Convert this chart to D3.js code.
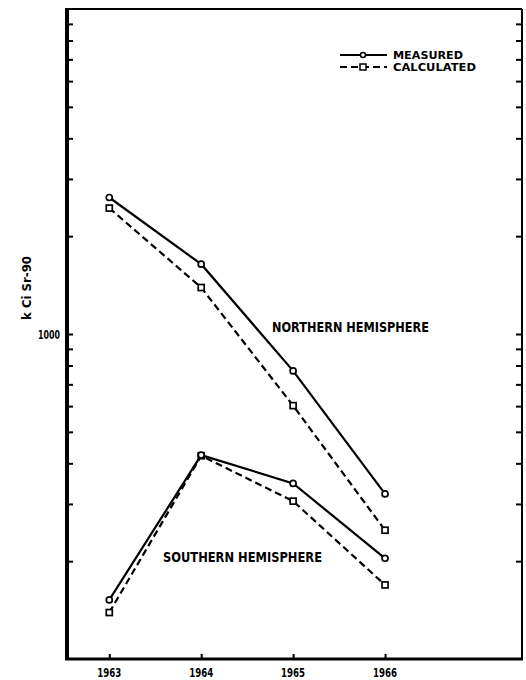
<!DOCTYPE html>
<html>
<head>
<meta charset="utf-8">
<script src="https://cdn.jsdelivr.net/npm/d3@7"></script>
<style>
  body { margin: 0; background: #fff; }
  text { font-family: "DejaVu Sans", sans-serif; font-weight: bold; fill: #000; }
</style>
</head>
<body>
<div id="graph"></div>
<script>
// data (k Ci Sr-90)
var years = [1963, 1964, 1965, 1966];
var northMeasured = [2630, 1640, 770, 322];
var northCalculated = [2440, 1390, 602, 249];
var southMeasured = [152, 424, 347, 204];
var southCalculated = [139, 422, 306, 169];
var xTickLabels = ["1963", "1964", "1965", "1966"];
var yLabelTicks = [1000];

var width = 526, height = 680;
var margin = {top: 9, right: 4, bottom: 21, left: 67};
var w = width - margin.left - margin.right,
    h = height - margin.top - margin.bottom;

var svg = d3.select("#graph").append("svg")
    .attr("width", width)
    .attr("height", height);

var g = svg.append("g")
    .attr("transform", "translate(" + margin.left + "," + margin.top + ")");

// scales
var x = d3.scaleLinear().domain([1962.54, 1967.49]).range([0, w]);
var y = d3.scaleLog().domain([100, 10000]).range([h, 0]);

// minor ticks for the log axis (every 100s and 1000s)
var minorTicks = y.ticks().filter(function(d) { return d > 100 && d < 10000; });

// left axis
var left = g.append("g")
    .call(d3.axisRight(y).tickValues(minorTicks).tickSize(6).tickFormat(""));
left.select(".domain").remove();
left.selectAll(".tick line").attr("stroke-width", 2);

// right axis
var right = g.append("g")
    .attr("transform", "translate(" + w + ",0)")
    .call(d3.axisLeft(y).tickValues(minorTicks).tickSize(6).tickFormat(""));
right.select(".domain").remove();
right.selectAll(".tick line").attr("stroke-width", 2);

// 1000 label
g.selectAll(".ylab")
    .data(yLabelTicks)
    .enter().append("text")
    .attr("class", "ylab")
    .attr("x", -7)
    .attr("y", function(d) { return y(d); })
    .attr("dy", "0.36em")
    .attr("text-anchor", "end")
    .attr("font-size", 12.5)
    .attr("textLength", 22)
    .attr("lengthAdjust", "spacingAndGlyphs")
    .text(function(d) { return d; });

// bottom axis
var bottom = g.append("g")
    .attr("transform", "translate(0," + h + ")")
    .call(d3.axisTop(x).tickValues(years).tickSize(5).tickFormat(""));
bottom.select(".domain").remove();
bottom.selectAll(".tick line").attr("stroke-width", 2);

g.selectAll(".xlab")
    .data(years)
    .enter().append("text")
    .attr("class", "xlab")
    .attr("x", function(d) { return x(d); })
    .attr("y", h + 18)
    .attr("text-anchor", "middle")
    .attr("font-size", 13)
    .attr("textLength", 24)
    .attr("lengthAdjust", "spacingAndGlyphs")
    .text(function(d, i) { return xTickLabels[i]; });

// frame
g.append("line").attr("x1", 0).attr("x2", w).attr("y1", 0).attr("y2", 0)
    .attr("stroke", "#000").attr("stroke-width", 2);
g.append("line").attr("x1", w).attr("x2", w).attr("y1", 0).attr("y2", h)
    .attr("stroke", "#000").attr("stroke-width", 2);
g.append("line").attr("x1", 0).attr("x2", 0).attr("y1", -1).attr("y2", h + 1)
    .attr("stroke", "#000").attr("stroke-width", 4);
g.append("line").attr("x1", -2).attr("x2", w + 1).attr("y1", h).attr("y2", h)
    .attr("stroke", "#000").attr("stroke-width", 3);

// y label
svg.append("text")
    .attr("transform", "translate(31,288) rotate(-90)")
    .attr("text-anchor", "middle")
    .attr("font-size", 13)
    .attr("textLength", 64)
    .attr("lengthAdjust", "spacingAndGlyphs")
    .text("k Ci Sr-90");

var line = d3.line()
    .x(function(d, i) { return x(years[i]); })
    .y(function(d) { return y(d); });

function drawSeries(values, dashed, marker) {
  g.append("path")
      .datum(values)
      .attr("fill", "none")
      .attr("stroke", "#000")
      .attr("stroke-width", 2.2)
      .attr("stroke-dasharray", dashed ? "7,4" : null)
      .attr("d", line);
  if (marker === "circle") {
    g.selectAll(null)
        .data(values)
        .enter().append("circle")
        .attr("cx", function(d, i) { return x(years[i]); })
        .attr("cy", function(d) { return y(d); })
        .attr("r", 3)
        .attr("fill", "#fff")
        .attr("stroke", "#000")
        .attr("stroke-width", 1.7);
  } else {
    g.selectAll(null)
        .data(values)
        .enter().append("rect")
        .attr("x", function(d, i) { return x(years[i]) - 3; })
        .attr("y", function(d) { return y(d) - 3; })
        .attr("width", 6)
        .attr("height", 6)
        .attr("fill", "#fff")
        .attr("stroke", "#000")
        .attr("stroke-width", 1.7);
  }
}

drawSeries(northCalculated, true, "square");
drawSeries(northMeasured, false, "circle");
drawSeries(southCalculated, true, "square");
drawSeries(southMeasured, false, "circle");

// series labels
g.append("text")
    .attr("x", 272 - margin.left)
    .attr("y", 332 - margin.top)
    .attr("font-size", 13.5)
    .attr("textLength", 157)
    .attr("lengthAdjust", "spacingAndGlyphs")
    .text("NORTHERN HEMISPHERE");
g.append("text")
    .attr("x", 163 - margin.left)
    .attr("y", 562 - margin.top)
    .attr("font-size", 13.5)
    .attr("textLength", 159)
    .attr("lengthAdjust", "spacingAndGlyphs")
    .text("SOUTHERN HEMISPHERE");

// legend
var legend = svg.append("g").attr("transform", "translate(340,55)");
var legendItems = [
  {name: "MEASURED", dashed: false, marker: "circle", len: 70},
  {name: "CALCULATED", dashed: true, marker: "square", len: 83}
];
legendItems.forEach(function(item, i) {
  var ly = i * 12;
  legend.append("line")
      .attr("x1", 0).attr("x2", 47).attr("y1", ly).attr("y2", ly)
      .attr("stroke", "#000").attr("stroke-width", 2.2)
      .attr("stroke-dasharray", item.dashed ? "7,4" : null);
  if (item.marker === "circle") {
    legend.append("circle").attr("cx", 23).attr("cy", ly).attr("r", 2.5)
        .attr("fill", "#fff").attr("stroke", "#000").attr("stroke-width", 1.5);
  } else {
    legend.append("rect").attr("x", 20).attr("y", ly - 3).attr("width", 6).attr("height", 6)
        .attr("fill", "#fff").attr("stroke", "#000").attr("stroke-width", 1.5);
  }
  legend.append("text")
      .attr("x", 53)
      .attr("y", ly)
      .attr("dy", "0.36em")
      .attr("font-size", 10.5)
      .attr("textLength", item.len)
      .attr("lengthAdjust", "spacingAndGlyphs")
      .text(item.name);
});
</script>
</body>
</html>
